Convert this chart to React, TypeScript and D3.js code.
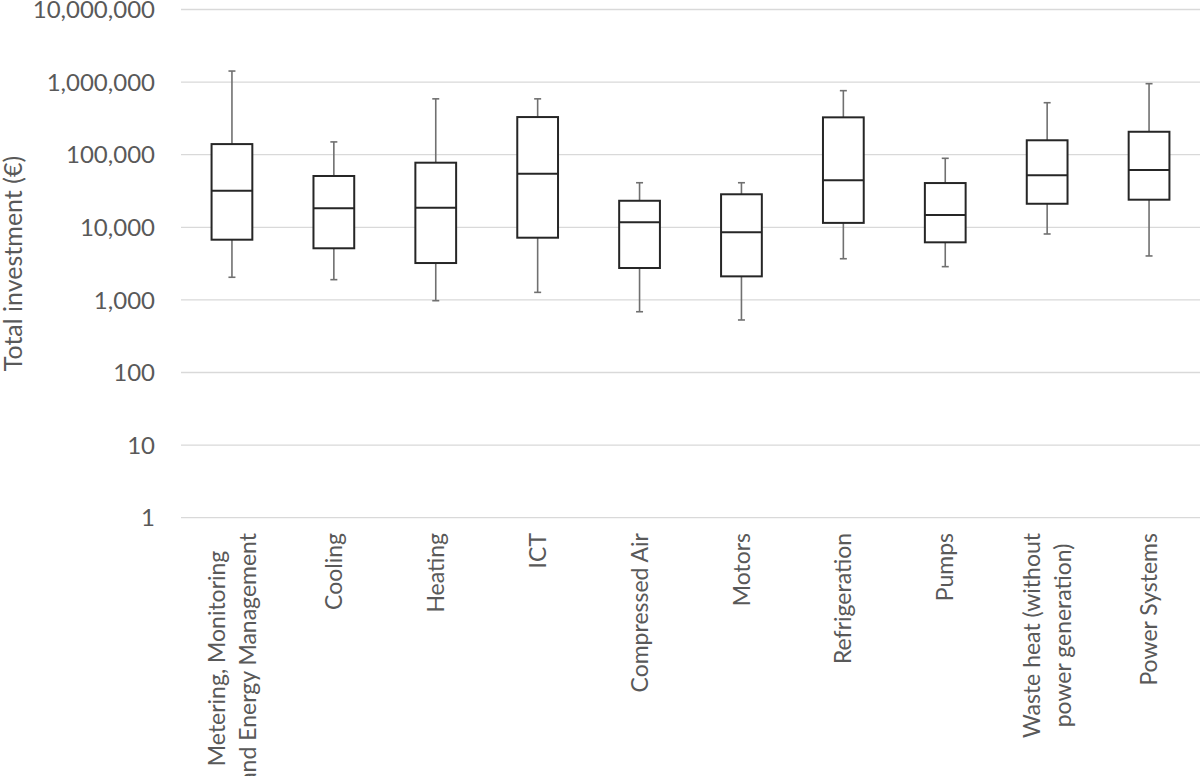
import React, { useEffect, useRef } from "react";
import * as d3 from "d3";

const categories: string[][] = [
  ["Metering, Monitoring", "and Energy Management"],
  ["Cooling"],
  ["Heating"],
  ["ICT"],
  ["Compressed Air"],
  ["Motors"],
  ["Refrigeration"],
  ["Pumps"],
  ["Waste heat (without", "power generation)"],
  ["Power Systems"],
];
const whiskerLow = [2050, 1900, 975, 1270, 687, 529, 3690, 2870, 8090, 4030];
const q1 = [6750, 5140, 3220, 7190, 2750, 2110, 11500, 6210, 21100, 24000];
const median = [31900, 18300, 18600, 54700, 11700, 8530, 44400, 14800, 52000, 61500];
const q3 = [140000, 50900, 77600, 330000, 23200, 28500, 327000, 40700, 158000, 207000];
const whiskerHigh = [1420000, 150000, 588000, 588000, 41100, 41100, 762000, 89200, 520000, 951000];
const yTicks = [1, 10, 100, 1000, 10000, 100000, 1000000, 10000000];
const yTitle = "Total investment (€)";

const W = 1200;
const H = 776;
const M = { left: 181, right: 0, top: 9.5, bottom: 776 - 517.7 };
const FONT = "Lato, 'Open Sans', sans-serif";
const TXT = "#595959";

export default function App() {
  const ref = useRef<SVGSVGElement>(null);
  useEffect(() => {
    const svg = d3.select(ref.current!);
    svg.selectAll("*").remove();
    const x = d3
      .scaleBand<number>()
      .domain(d3.range(categories.length))
      .range([M.left, W - M.right])
      .paddingInner(0)
      .paddingOuter(0);
    const y = d3.scaleLog().domain([1, 10000000]).range([H - M.bottom, M.top]);
    const fmt = d3.format(",");

    // gridlines
    svg
      .append("g")
      .selectAll("line")
      .data(yTicks)
      .join("line")
      .attr("x1", M.left)
      .attr("x2", W - M.right)
      .attr("y1", (d) => y(d))
      .attr("y2", (d) => y(d))
      .attr("stroke", "#d9d9d9")
      .attr("stroke-width", 1.3);

    // y tick labels
    svg
      .append("g")
      .selectAll("text")
      .data(yTicks)
      .join("text")
      .attr("x", 155)
      .attr("y", (d) => y(d))
      .attr("dy", "0.36em")
      .attr("text-anchor", "end")
      .attr("font-family", FONT)
      .attr("font-size", 24)
      .attr("fill", TXT)
      .text((d) => fmt(d));

    // y title
    svg
      .append("text")
      .attr("transform", `translate(22,${(y(1) + y(10000000)) / 2}) rotate(-90)`)
      .attr("text-anchor", "middle")
      .attr("font-family", FONT)
      .attr("font-size", 25)
      .attr("fill", TXT)
      .text(yTitle);

    const bw = x.bandwidth();
    const boxW = bw * 0.4;
    const capW = 7;
    const g = svg
      .append("g")
      .selectAll("g")
      .data(d3.range(categories.length))
      .join("g")
      .attr("transform", (i) => `translate(${x(i)! + bw / 2},0)`);

    const wc = "#707070";
    // whiskers
    g.append("line")
      .attr("x1", 0)
      .attr("x2", 0)
      .attr("y1", (i) => y(whiskerHigh[i]))
      .attr("y2", (i) => y(q3[i]))
      .attr("stroke", wc)
      .attr("stroke-width", 1.6);
    g.append("line")
      .attr("x1", 0)
      .attr("x2", 0)
      .attr("y1", (i) => y(q1[i]))
      .attr("y2", (i) => y(whiskerLow[i]))
      .attr("stroke", wc)
      .attr("stroke-width", 1.6);
    g.append("line")
      .attr("x1", -capW / 2)
      .attr("x2", capW / 2)
      .attr("y1", (i) => y(whiskerHigh[i]))
      .attr("y2", (i) => y(whiskerHigh[i]))
      .attr("stroke", wc)
      .attr("stroke-width", 1.6);
    g.append("line")
      .attr("x1", -capW / 2)
      .attr("x2", capW / 2)
      .attr("y1", (i) => y(whiskerLow[i]))
      .attr("y2", (i) => y(whiskerLow[i]))
      .attr("stroke", wc)
      .attr("stroke-width", 1.6);

    // boxes
    g.append("rect")
      .attr("x", -boxW / 2)
      .attr("width", boxW)
      .attr("y", (i) => y(q3[i]))
      .attr("height", (i) => y(q1[i]) - y(q3[i]))
      .attr("fill", "#ffffff")
      .attr("stroke", "#262626")
      .attr("stroke-width", 2);
    g.append("line")
      .attr("x1", -boxW / 2)
      .attr("x2", boxW / 2)
      .attr("y1", (i) => y(median[i]))
      .attr("y2", (i) => y(median[i]))
      .attr("stroke", "#262626")
      .attr("stroke-width", 2);

    // category labels
    const lineH = 31;
    const topY = 533;
    categories.forEach((lines, i) => {
      const cx = x(i)! + bw / 2;
      const n = lines.length;
      const texts = lines.map((line) =>
        svg
          .append("text")
          .attr("font-family", FONT)
          .attr("font-size", 23)
          .attr("fill", TXT)
          .attr("text-anchor", "middle")
          .attr("dy", "0.35em")
          .text(line)
      );
      const lens = texts.map((t) => (t.node() as SVGTextElement).getComputedTextLength());
      const maxLen = d3.max(lens) || 0;
      texts.forEach((t, j) => {
        const lx = cx + (j - (n - 1) / 2) * lineH;
        const ly = topY + maxLen / 2;
        t.attr("transform", `translate(${lx},${ly}) rotate(-90)`);
      });
    });
  }, []);
  return (
    <svg
      ref={ref}
      width={W}
      height={H}
      style={{ position: "absolute", left: 0, top: 0, background: "#fff" }}
    />
  );
}
